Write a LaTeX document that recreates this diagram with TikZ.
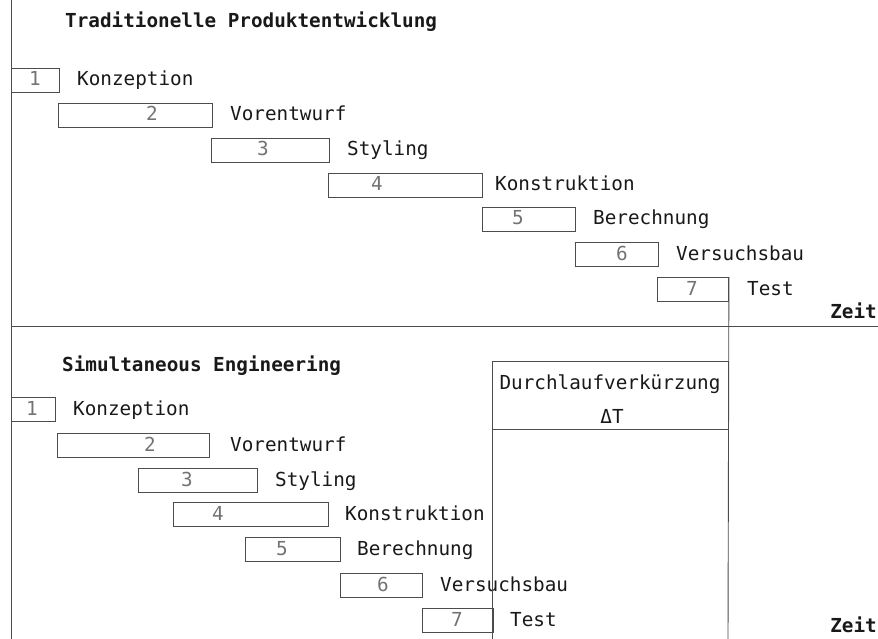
\documentclass[tikz,border=0pt]{standalone}
\usepackage{fontspec}
\setmainfont{DejaVu Sans Mono}
\newcommand\ganttrow[8]{%
  \node[bar, minimum width={#3-#2}] (#1) at (#2,#4) {};
  \node[num] (#1n) at (#5,#4+18) {#6};
  \node[lbl] (#1l) at (#7,#4+18) {#8};
}
\begin{document}
\begin{tikzpicture}[x=1pt,y=-1pt,
  ln/.style={draw=black!70,line width=0.9pt},
  bar/.style={ln, rectangle, inner sep=0pt, minimum height=24pt, anchor=north west},
  num/.style={text=black!55, font=\fontsize{19.3}{19.3}\selectfont, anchor=base, inner sep=0pt},
  lbl/.style={text=black!90, font=\fontsize{19.3}{19.3}\selectfont, anchor=base west, inner sep=0pt},
  ttl/.style={text=black!90, font=\fontsize{19.3}{19.3}\selectfont\bfseries, anchor=base west, inner sep=0pt}]
\useasboundingbox (0,0) rectangle (878,639);

% axes
\coordinate (lt) at (11,0);
\coordinate (lb) at (11,639);
\coordinate (ax0) at (11,326);
\coordinate (ax1) at (878,326);
\draw[ln] (lt) -- (lb);
\draw[ln] (ax0) -- (ax1);

% titles
\node[ttl] (title1) at (65,28) {Traditionelle Produktentwicklung};
\node[ttl] (title2) at (62,371) {Simultaneous Engineering};
\node[ttl, anchor=base east] (zeit1) at (877,318) {Zeit};
\node[ttl, anchor=base east] (zeit2) at (877,632) {Zeit};

% traditional
\ganttrow{t1}{11}{59}{68}{35}{1}{77}{Konzeption}
\ganttrow{t2}{58}{212}{103}{152}{2}{230}{Vorentwurf}
\ganttrow{t3}{211}{329}{138}{263}{3}{347}{Styling}
\ganttrow{t4}{328}{482}{173}{377}{4}{495}{Konstruktion}
\ganttrow{t5}{482}{575}{207}{518}{5}{593}{Berechnung}
\ganttrow{t6}{575}{658}{242}{622}{6}{676}{Versuchsbau}
\ganttrow{t7}{657}{728}{277}{692}{7}{747}{Test}

% simultaneous
\ganttrow{b1}{11}{55}{397}{32}{1}{73}{Konzeption}
\ganttrow{b2}{57}{209}{433}{150}{2}{230}{Vorentwurf}
\ganttrow{b3}{138}{257}{468}{187}{3}{275}{Styling}
\ganttrow{b4}{173}{328}{502}{218}{4}{345}{Konstruktion}
\ganttrow{b5}{245}{340}{537}{282}{5}{357}{Berechnung}
\ganttrow{b6}{340}{422}{573}{383}{6}{440}{Versuchsbau}
\ganttrow{b7}{422}{493}{608}{457}{7}{510}{Test}

% Durchlaufverkuerzung
\node[ln, rectangle, inner sep=0pt, minimum width=236pt, minimum height=68pt, anchor=north west] (dlk) at (492,361) {};
\node[lbl, anchor=base] (dlkt) at (610,389) {Durchlaufverkürzung};
\node[lbl, anchor=base] (dlkd) at (612,423) {ΔT};
\coordinate (dlkbl) at (492,639);
\coordinate (endr) at (728,639);
\draw[ln] (dlk.south west) -- (dlkbl);
\draw[ln] (t7.north east) -- (endr);
\end{tikzpicture}
\end{document}
